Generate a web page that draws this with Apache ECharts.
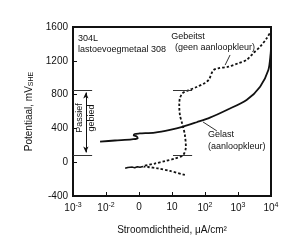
<!DOCTYPE html>
<html>
<head>
<meta charset="utf-8">
<script src="https://cdn.jsdelivr.net/npm/echarts@6/dist/echarts.min.js"></script>
<style>
  html, body { margin: 0; padding: 0; background: #fff; }
  #chart { width: 300px; height: 241px; }
</style>
</head>
<body>
<div id="chart"></div>
<script>
// x is in decades from the left edge (0 = 10^-3 ... 6 = 10^4), y in mV
const xTickLabels = ['10{sup|-3}', '10{sup|-2}', '0', '10', '10{sup|2}', '10{sup|3}', '10{sup|4}'];

const gelast = [
  [0.82, 243], [1.27, 257], [1.78, 271], [1.96, 281], [1.93, 305], [1.84, 316],
  [1.87, 334], [2.02, 340], [2.48, 350], [2.94, 382], [3.34, 421], [3.75, 473],
  [4.15, 527], [4.66, 618], [5.26, 736], [5.67, 894], [5.92, 1091], [5.99, 1289],
  [6.0, 1367]
];

const gebeitstStart = [
  [1.58, -72], [1.66, -62], [1.72, -70], [1.8, -58], [1.87, -66], [1.95, -54],
  [2.03, -60], [2.12, -51]
];

const gebeitst = [
  [3.39, -151], [2.94, -104], [2.58, -74], [2.27, -57], [2.12, -51],
  [2.48, -16], [2.79, 14], [3.09, 43], [3.34, 85], [3.42, 183], [3.39, 322],
  [3.32, 441], [3.24, 559], [3.22, 677], [3.24, 757], [3.32, 816], [3.45, 843],
  [3.75, 890], [4.0, 938], [4.12, 979], [4.2, 1052], [4.26, 1091], [4.4, 1111],
  [4.71, 1130], [5.01, 1171], [5.26, 1210], [5.46, 1289], [5.67, 1367],
  [5.87, 1466], [6.0, 1553]
];

const passiveTop = 855;
const passiveBottom = 86;

const chart = echarts.init(document.getElementById('chart'), null, { renderer: 'canvas' });
const ink = '#111';
const font = 'Liberation Sans';

chart.setOption({
  animation: false,
  backgroundColor: '#fff',
  textStyle: { fontFamily: font },
  grid: {
    left: 73, right: 29, top: 27, bottom: 45,
    show: true, borderColor: ink, borderWidth: 2, backgroundColor: 'transparent'
  },
  xAxis: {
    type: 'value', min: 0, max: 6, interval: 1,
    axisLine: { onZero: false, lineStyle: { color: ink, width: 2 } },
    axisTick: { inside: true, length: 4, lineStyle: { color: ink } },
    splitLine: { show: false },
    axisLabel: {
      margin: 6, color: ink, fontSize: 10, fontFamily: font,
      formatter: v => xTickLabels[Math.round(v)],
      rich: { sup: { fontSize: 7, verticalAlign: 'top', padding: [0, 0, 6, 0], color: ink } }
    },
    name: 'Stroomdichtheid, μA/cm²',
    nameLocation: 'middle', nameGap: 29,
    nameTextStyle: { color: ink, fontSize: 10, fontFamily: font }
  },
  yAxis: {
    type: 'value', min: -400, max: 1600, interval: 400,
    axisLine: { onZero: false, lineStyle: { color: ink, width: 2 } },
    axisTick: { inside: true, length: 4, lineStyle: { color: ink } },
    splitLine: { show: false },
    axisLabel: { margin: 5, color: ink, fontSize: 10, fontFamily: font, formatter: v => String(v) },
    name: 'Potentiaal, mV{sub|SHE}',
    nameLocation: 'middle', nameGap: 26, nameRotate: 90,
    nameTextStyle: {
      color: ink, fontSize: 10, fontFamily: font,
      rich: { sub: { fontSize: 7, verticalAlign: 'bottom', padding: [4, 0, 0, 0], color: ink } }
    }
  },
  series: [
    {
      name: 'Gelast', type: 'line', data: gelast, symbol: 'none', smooth: 0.3,
      lineStyle: { color: ink, width: 1.8 }, z: 3
    },
    {
      name: 'Gebeitst start', type: 'line', data: gebeitstStart, symbol: 'none',
      lineStyle: { color: ink, width: 1.5 }, z: 3
    },
    {
      name: 'Gebeitst', type: 'line', data: gebeitst, symbol: 'none', smooth: 0.3,
      lineStyle: { color: ink, width: 1.8, type: [2.5, 2] }, z: 3
    },
    {
      name: 'markers', type: 'line', data: [], symbol: 'none',
      markLine: {
        silent: true, symbol: 'none', label: { show: false },
        lineStyle: { color: '#333', width: 1, type: 'solid' },
        data: [
          [{ coord: [0, passiveTop] }, { coord: [0.58, passiveTop] }],
          [{ coord: [0, passiveBottom] }, { coord: [0.58, passiveBottom] }],
          [{ coord: [3.03, passiveTop] }, { coord: [3.61, passiveTop] }],
          [{ coord: [3.03, passiveBottom] }, { coord: [3.61, passiveBottom] }],
          [{ coord: [4.76, 1269] }, { coord: [4.61, 1150] }],
          [{ coord: [3.94, 476] }, { coord: [4.36, 370] }]
        ]
      }
    },
    {
      name: 'arrow', type: 'line', data: [], symbol: 'none',
      markLine: {
        silent: true, symbol: ['arrow', 'arrow'], symbolSize: [4, 6],
        label: { show: false },
        lineStyle: { color: ink, width: 1, type: 'solid' },
        data: [[{ coord: [0.39, passiveTop - 30] }, { coord: [0.39, passiveBottom + 30] }]]
      }
    }
  ],
  graphic: [
    { type: 'text', left: 78, top: 33, style: { text: '304L\nlastoevoegmetaal 308', fill: ink, font: '9px ' + font, lineHeight: 11 } },
    { type: 'text', x: 188, y: 37, style: { text: 'Gebeitst', fill: ink, font: '9px ' + font, align: 'center', verticalAlign: 'middle' } },
    { type: 'text', x: 175, y: 48, style: { text: '(geen aanloopkleur)', fill: ink, font: '9px ' + font, verticalAlign: 'middle' } },
    { type: 'text', x: 208, y: 135, style: { text: 'Gelast', fill: ink, font: '9px ' + font, verticalAlign: 'middle' } },
    { type: 'text', x: 208, y: 147, style: { text: '(aanloopkleur)', fill: ink, font: '9px ' + font, verticalAlign: 'middle' } },
    { type: 'text', x: 80, y: 118, rotation: Math.PI / 2, style: { text: 'Passief', fill: ink, font: '9px ' + font, align: 'center', verticalAlign: 'middle' } },
    { type: 'text', x: 92, y: 118, rotation: Math.PI / 2, style: { text: 'gebied', fill: ink, font: '9px ' + font, align: 'center', verticalAlign: 'middle' } }
  ]
});
</script>
</body>
</html>
